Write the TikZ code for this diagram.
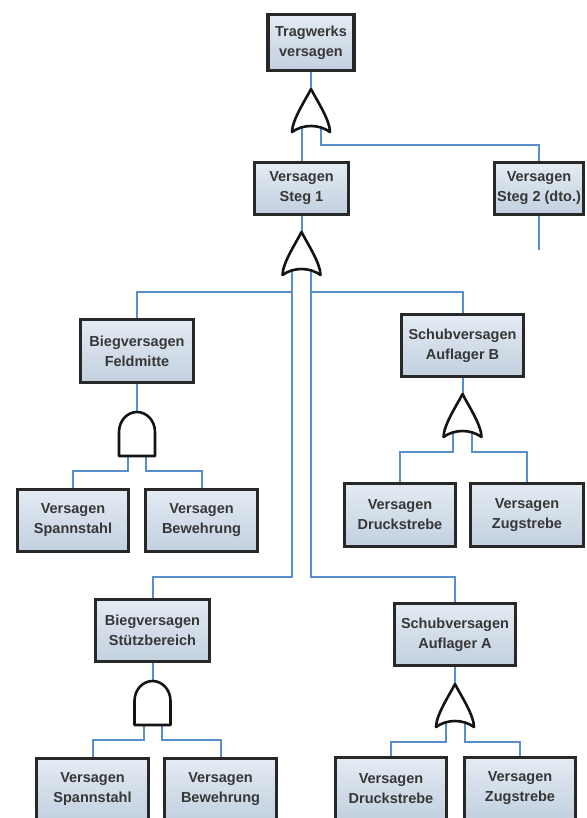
\documentclass[tikz,border=0pt]{standalone}
\usepackage{fontspec}
\setmainfont{Liberation Sans}
\usetikzlibrary{calc}
\pgfdeclarelayer{wires}
\pgfsetlayers{wires,main}

\definecolor{boxtop}{RGB}{228,235,243}
\definecolor{boxbot}{RGB}{194,208,223}
\definecolor{boxline}{RGB}{40,40,40}
\definecolor{wireblue}{RGB}{88,142,204}
\definecolor{labelgray}{RGB}{55,55,55}

\tikzset{
  event/.style={draw=boxline, line width=3.4pt, top color=boxtop, bottom color=boxbot,
    shading angle=0, inner sep=0pt, align=center, text=labelgray,
    font=\bfseries\fontsize{14.5}{20}\selectfont},
  wire/.style={draw=wireblue, line width=2pt},
  gateline/.style={draw=black!92, line width=2.6pt, fill=white, line join=round},
  orgate/.pic={
    \path[gateline] (-19,0) .. controls (-19,-12) and (-5,-33) .. (0,-43)
      .. controls (5,-33) and (19,-12) .. (19,0)
      .. controls (8,-8) and (-8,-8) .. cycle;
    \coordinate (-out) at (0,-43);
    \coordinate (-inL) at (-9.5,-5);
    \coordinate (-inR) at (9.5,-5);
  },
  andgate/.pic={
    \path[gateline] (-18,0) -- (-18,-24) .. controls (-18,-35) and (-10,-44) .. (0,-44)
      .. controls (10,-44) and (18,-35) .. (18,-24) -- (18,0) -- cycle;
    \coordinate (-out) at (0,-44);
    \coordinate (-inL) at (-9,-2);
    \coordinate (-inR) at (9,-2);
  },
}

\begin{document}
\begin{tikzpicture}[x=1pt, y=-1pt]
\clip (0,0) rectangle (586,818);

% events
\node[event, minimum width=86, minimum height=56] (T)  at (311,42.5)   {Tragwerks\\versagen};
\node[event, minimum width=94, minimum height=52] (S1) at (301.5,188.5) {Versagen\\Steg 1};
\node[event, minimum width=89, minimum height=52] (S2) at (539,188.5)   {Versagen\\Steg 2 (dto.)};
\node[event, minimum width=113, minimum height=63] (BF) at (137,351)    {Biegversagen\\Feldmitte};
\node[event, minimum width=122, minimum height=62] (AB) at (462.5,345.5) {Schubversagen\\Auflager B};
\node[event, minimum width=111, minimum height=62] (FS) at (73,520.5)   {Versagen\\Spannstahl};
\node[event, minimum width=112, minimum height=62] (FB) at (201.5,520.5) {Versagen\\Bewehrung};
\node[event, minimum width=111, minimum height=63] (BD) at (400,515)    {Versagen\\Druckstrebe};
\node[event, minimum width=113, minimum height=63] (BZ) at (527,515)    {Versagen\\Zugstrebe};
\node[event, minimum width=114, minimum height=62] (SB) at (152.5,630.5) {Biegversagen\\Stützbereich};
\node[event, minimum width=121, minimum height=62] (AA) at (455,634.5)  {Schubversagen\\Auflager A};
\node[event, minimum width=112, minimum height=62] (SS) at (92.5,789.5) {Versagen\\Spannstahl};
\node[event, minimum width=112, minimum height=62] (SW) at (220.5,789.5) {Versagen\\Bewehrung};
\node[event, minimum width=111, minimum height=62] (AD) at (391,788.5)  {Versagen\\Druckstrebe};
\node[event, minimum width=111, minimum height=62] (AZ) at (520,788.5)  {Versagen\\Zugstrebe};

% gates
\pic (g1) at (311,132)   {orgate};
\pic (g2) at (301.5,275) {orgate};
\pic (g3) at (137,456)   {andgate};
\pic (g4) at (462.5,437) {orgate};
\pic (g5) at (152.5,725) {andgate};
\pic (g6) at (455,727)   {orgate};

\coordinate (s2end) at (539,250);

% connectors
\begin{pgfonlayer}{wires}
  \draw[wire] (T.south) -- (g1-out);
  \draw[wire] (g1-inL) -- (S1.north);
  \draw[wire] (g1-inR) -- ++(0,18) -| (S2.north);
  \draw[wire] (S2.south) -- (s2end);

  \draw[wire] (S1.south) -- (g2-out);
  \draw[wire] (g2-inL) -- ++(0,307) -| (SB.north);
  \draw[wire] (g2-inL) ++(0,22) -| (BF.north);
  \draw[wire] (g2-inR) -- ++(0,307) -| (AA.north);
  \draw[wire] (g2-inR) ++(0,22) -| (AB.north);

  \draw[wire] (BF.south) -- (g3-out);
  \draw[wire] (g3-inL) -- ++(0,17) -| (FS.north);
  \draw[wire] (g3-inR) -- ++(0,17) -| (FB.north);

  \draw[wire] (AB.south) -- (g4-out);
  \draw[wire] (g4-inL) -- ++(0,20) -| (BD.north);
  \draw[wire] (g4-inR) -- ++(0,20) -| (BZ.north);

  \draw[wire] (SB.south) -- (g5-out);
  \draw[wire] (g5-inL) -- ++(0,17) -| (SS.north);
  \draw[wire] (g5-inR) -- ++(0,17) -| (SW.north);

  \draw[wire] (AA.south) -- (g6-out);
  \draw[wire] (g6-inL) -- ++(0,20) -| (AD.north);
  \draw[wire] (g6-inR) -- ++(0,20) -| (AZ.north);
\end{pgfonlayer}
\end{tikzpicture}
\end{document}
